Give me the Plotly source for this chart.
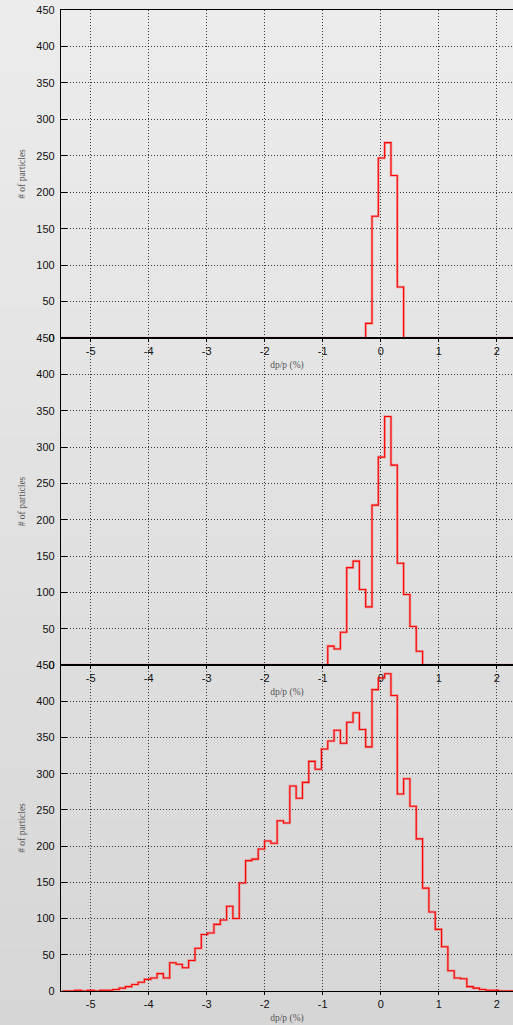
import numpy as np
import plotly.graph_objects as go

# ---- data (histograms of dp/p, bins of equal width) ----
bin_start = -5.491
bin_width = 0.109
n_bins = 72

counts_top = [0] * 48 + [20, 167, 247, 268, 223, 70] + [0] * 18
counts_mid = [0] * 42 + [26, 22, 45, 134, 143, 104, 80, 220, 286, 342, 275, 140, 97, 53, 19] + [0] * 15
counts_bot = [0, 0, 1, 0, 1, 0, 1, 1, 2, 4, 6, 9, 12, 16, 18, 24, 18, 39, 37, 32,
              42, 59, 78, 80, 92, 98, 117, 100, 149, 180, 182, 196, 207, 204, 235, 232, 283, 266, 288, 317,
              306, 334, 345, 360, 342, 371, 384, 361, 337, 416, 432, 438, 408, 272, 293, 255, 210, 142, 109, 85,
              61, 28, 18, 17, 6, 4, 2, 1, 1, 0, 0, 0]

x_ticks = [-5, -4, -3, -2, -1, 0, 1, 2]
x_tick_labels = ["-5", "-4", "-3", "-2", "-1", "0", "1", "2"]
y_ticks = [0, 50, 100, 150, 200, 250, 300, 350, 400, 450]
x_title = "dp/p (%)"
y_title = "# of particles"

edges = np.round(bin_start + bin_width * np.arange(n_bins + 1), 4)

W, H = 513, 1025
ML, MR, MT, MB = 61, 0, 10, 34
plot_h = H - MT - MB
bounds = [(10, 338), (338, 665), (665, 991)]


def dom(top, bot):
    return [(H - MB - bot) / plot_h, (H - MB - top) / plot_h]


fig = go.Figure()

for i, counts in enumerate([counts_top, counts_mid, counts_bot]):
    suf = "" if i == 0 else str(i + 1)
    yvals = list(counts) + [counts[-1]]
    fig.add_trace(go.Scatter(
        x=edges, y=yvals, mode="lines", line_shape="hv",
        line=dict(color="rgba(255,0,0,0.3)", width=2.6),
        xaxis="x" + suf, yaxis="y" + suf, hoverinfo="skip", showlegend=False))
    fig.add_trace(go.Scatter(
        x=edges, y=yvals, mode="lines", line_shape="hv",
        line=dict(color="#ff0000", width=1.1),
        xaxis="x" + suf, yaxis="y" + suf, showlegend=False))

axis_font = dict(family="Liberation Sans, Arial, sans-serif", size=11, color="#111")
title_font = dict(family="Liberation Serif, Times New Roman, serif", size=9.5, color="#555")

layout = dict(
    width=W, height=H,
    margin=dict(l=ML, r=MR, t=MT, b=MB, pad=0),
    paper_bgcolor="#e2e2e2",
    plot_bgcolor="rgba(0,0,0,0)",
    showlegend=False,
)

for i, (top, bot) in enumerate(bounds):
    suf = "" if i == 0 else str(i + 1)
    layout["xaxis" + suf] = dict(
        domain=[0, 1], anchor="y" + suf, range=[-5.512, 2.281],
        tickvals=x_ticks, ticktext=x_tick_labels,
        ticks="outside", ticklen=3, tickwidth=1.2, tickcolor="#000",
        showline=True, linecolor="#000", linewidth=1.2, mirror=True,
        showgrid=True, gridcolor="rgba(0,0,0,0.75)", gridwidth=1, griddash="1px,2px",
        zeroline=False, tickfont=axis_font, automargin=False,
        title=dict(text=x_title, font=title_font, standoff=5),
    )
    layout["yaxis" + suf] = dict(
        domain=dom(top, bot), anchor="x" + suf, range=[0, 450],
        tickvals=y_ticks, ticks="inside", ticklen=6, tickwidth=1.2, tickcolor="#000",
        showline=True, linecolor="#000", linewidth=1.2, mirror=False,
        showgrid=True, gridcolor="rgba(0,0,0,0.75)", gridwidth=1, griddash="1px,2px",
        zeroline=False, tickfont=axis_font, automargin=False, ticklabelstandoff=3,
        title=dict(text=y_title, font=title_font, standoff=9),
    )

# soft vertical background gradient
shapes = []
n_strips = 40
for j in range(n_strips):
    f = j / (n_strips - 1)
    c = int(round(236 - f * (236 - 214)))
    y0px = H * j / n_strips
    y1px = H * (j + 1) / n_strips + 1
    shapes.append(dict(
        type="rect", xref="paper", yref="paper", layer="below",
        x0=-ML / (W - ML - MR) - 0.01, x1=1.01,
        y0=(H - MB - y1px) / plot_h, y1=(H - MB - y0px) / plot_h,
        fillcolor=f"rgb({c},{c},{c})", line=dict(width=0)))
layout["shapes"] = shapes

fig.update_layout(**layout)
fig.write_html(
    "out.html",
    config={"displayModeBar": False},
    post_script="document.body.style.margin='0';document.body.style.background='#e2e2e2';",
)
